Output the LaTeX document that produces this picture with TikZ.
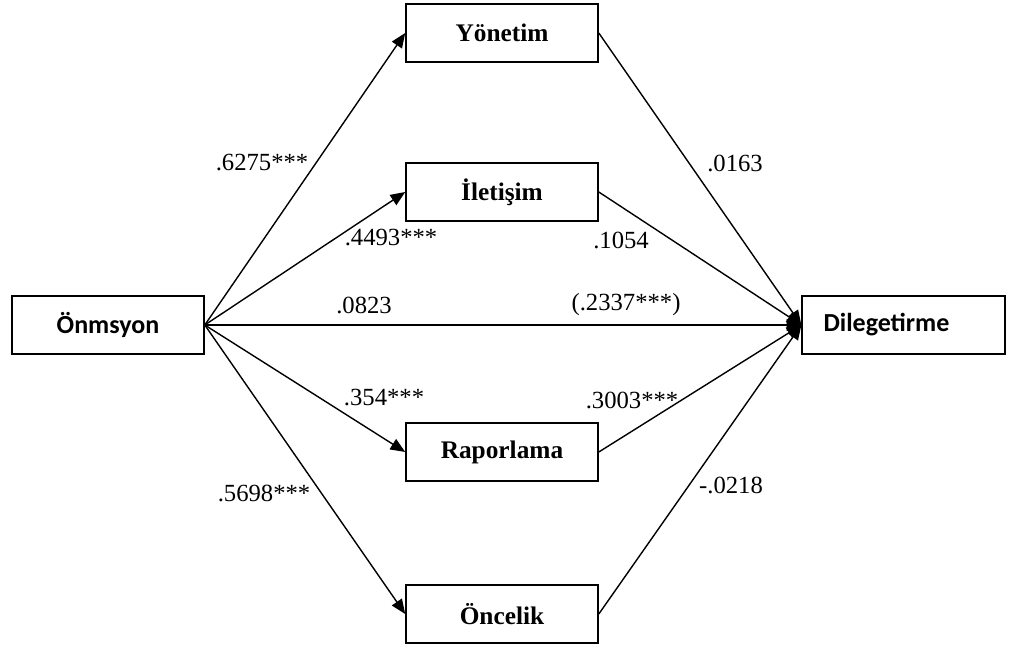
\documentclass[tikz,border=0pt]{standalone}
\usepackage{fontspec}
\setmainfont{Liberation Serif}
\newfontfamily\calibrifont{Carlito}
\usetikzlibrary{arrows.meta}
\tikzset{
  var/.style={draw, line width=1.2pt, minimum width=144pt, minimum height=43.5pt, inner sep=0pt,
    font=\fontsize{19}{22}\selectfont\bfseries},
  sansvar/.style={var, font=\calibrifont\fontsize{19.5}{22}\selectfont\bfseries},
  coef/.style={inner sep=0pt, font=\fontsize{18.5}{20}\selectfont},
  effect/.style={line width=1.05pt, -{Triangle[length=11pt,width=9pt]}}
}
\begin{document}
\begin{tikzpicture}[x=0.75pt,y=-0.75pt]
      \useasboundingbox (0,0) rectangle (1014,649);
      \draw
        (108,325) node[sansvar] (onm){Önmsyon}
        (903.5,325) node[sansvar, minimum width=152pt, text width=120pt, inner xsep=16pt, align=left] (dil){Dilegetirme}
        (502,33) node[var] (yon){Yönetim}
        (502,192) node[var] (ile){İletişim}
        (502,452) node[var] (rap){Raporlama}
        (502,614) node[var] (onc){Öncelik};
      \begin{scope}[effect]
        \draw (onm.east) to (yon.west);
        \draw (onm.east) to (ile.west);
        \draw (onm.east) to (dil.west);
        \draw (onm.east) to (rap.west);
        \draw (onm.east) to (onc.west);
        \draw (yon.east) to (dil.west);
        \draw (ile.east) to (dil.west);
        \draw (rap.east) to (dil.west);
        \draw (onc.east) to (dil.west);
      \end{scope}
      \draw
        (262,163) node[coef] (a1){.6275***}
        (391,238) node[coef] (a2){.4493***}
        (364,305) node[coef] (c){.0823}
        (384,398) node[coef] (a4){.354***}
        (264,493) node[coef] (a5){.5698***}
        (735,163) node[coef] (b1){.0163}
        (621,240) node[coef] (b2){.1054}
        (626,305) node[coef] (cp){(.2337***)}
        (632,400) node[coef] (b4){.3003***}
        (731,485) node[coef] (b5){-.0218};
    \end{tikzpicture}
\end{document}
